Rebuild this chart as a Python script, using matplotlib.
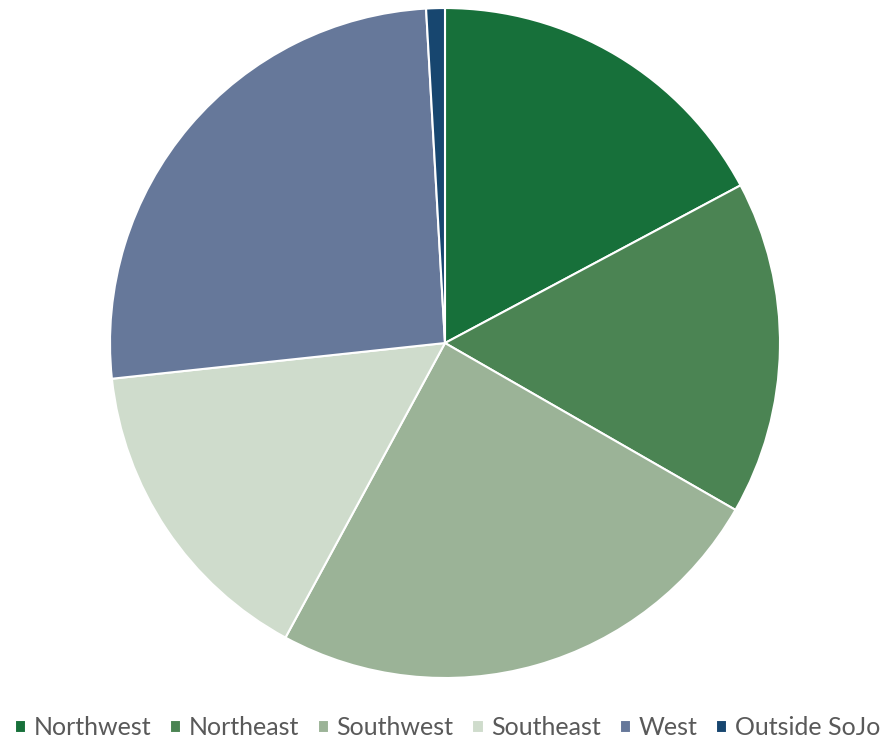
"""Pie chart: share by region."""
import matplotlib

matplotlib.use("Agg")
import matplotlib.pyplot as plt

regions = ["Northwest", "Northeast", "Southwest", "Southeast", "West", "Outside SoJo"]
shares = [17.2, 16.1, 24.6, 15.4, 25.8, 0.9]
colors = ["#17703a", "#4b8453", "#9bb397", "#cfdccc", "#66789a", "#17466f"]

plt.rcParams["font.family"] = ["Lato", "DejaVu Sans"]

fig = plt.figure(figsize=(8.95, 7.44), dpi=100)
ax = fig.add_axes([0.1229, 0.0887, 0.7486, 0.9005])
wedges, _ = ax.pie(
    shares,
    colors=colors,
    startangle=90,
    counterclock=False,
    radius=1.0,
    wedgeprops=dict(edgecolor="white", linewidth=1.5),
)
ax.set_xlim(-1, 1)
ax.set_ylim(-1, 1)
ax.set_aspect("auto")
ax.axis("off")

leg = fig.legend(
    wedges,
    regions,
    loc="center",
    bbox_to_anchor=(0.5, 0.022),
    ncol=6,
    frameon=False,
    fontsize=18,
    handlelength=0.45,
    handleheight=0.45,
    handletextpad=0.3,
    columnspacing=0.75,
)
for t in leg.get_texts():
    t.set_color("#595959")

fig.savefig("out.png", dpi=100)
plt.close(fig)
